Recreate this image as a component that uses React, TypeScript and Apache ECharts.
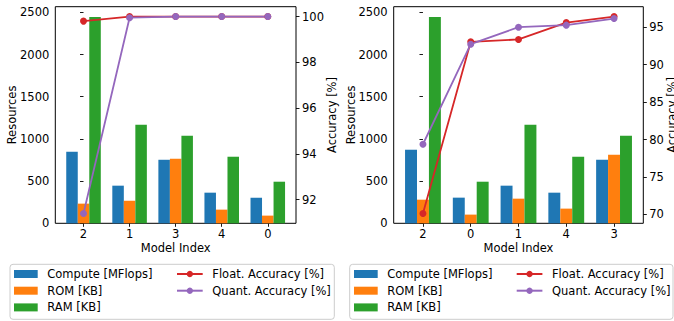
import React, { useEffect, useRef } from "react";
import * as echarts from "echarts";

const leftCats = ["2", "1", "3", "4", "0"];
const leftCompute = [848, 446, 753, 363, 304];
const leftROM = [233, 268, 765, 162, 91];
const leftRAM = [2445, 1167, 1037, 789, 493];
const leftFloat = [99.8, 100.0, 100.0, 100.0, 100.0];
const leftQuant = [91.39, 99.95, 100.0, 100.0, 100.0];

const rightCats = ["2", "0", "1", "4", "3"];
const rightCompute = [872, 304, 446, 363, 753];
const rightROM = [280, 103, 292, 174, 812];
const rightRAM = [2445, 493, 1167, 789, 1037];
const rightFloat = [70.13, 93.05, 93.36, 95.62, 96.42];
const rightQuant = [79.37, 92.73, 95.0, 95.27, 96.15];

const resTicks = [0, 500, 1000, 1500, 2000, 2500];
const leftAccTicks = [92, 94, 96, 98, 100];
const rightAccTicks = [70, 75, 80, 85, 90, 95];

const BLUE = "#1f77b4";
const ORANGE = "#ff7f0e";
const GREEN = "#2ca02c";
const RED = "#d62728";
const PURPLE = "#9467bd";
const FONT = "DejaVu Sans";
const FS = 11.5;

const XMIN = -0.6125;
const XMAX = 4.6125;

function margins(vals: number[]) {
  const lo = Math.min(...vals);
  const hi = Math.max(...vals);
  const m = (hi - lo) * 0.05;
  return [lo - m, hi + m];
}

export default function App() {
  const ref = useRef<HTMLDivElement>(null);
  useEffect(() => {
    document.body.style.margin = "0";
    const chart = echarts.init(ref.current!, null, { renderer: "svg" });
    const grids = [
      { left: 55.3, top: 6.7, width: 240.7, height: 216.6 },
      { left: 393.7, top: 6.7, width: 249.6, height: 216.6 },
    ];
    const panels = [
      { cats: leftCats, compute: leftCompute, rom: leftROM, ram: leftRAM, fl: leftFloat, qu: leftQuant, accTicks: leftAccTicks },
      { cats: rightCats, compute: rightCompute, rom: rightROM, ram: rightRAM, fl: rightFloat, qu: rightQuant, accTicks: rightAccTicks },
    ];
    const tickStyle = { color: "#000", width: 0.9 };
    const labelStyle = { color: "#000", fontSize: FS, fontFamily: FONT };
    const xAxis: any[] = [];
    const yAxis: any[] = [];
    const series: any[] = [];
    panels.forEach((p, gi) => {
      const idx = [0, 1, 2, 3, 4];
      xAxis.push({
        type: "value",
        gridIndex: gi,
        min: XMIN,
        max: XMAX,
        splitLine: { show: false },
        axisLine: { show: false },
        axisTick: { show: true, customValues: idx, length: 3.5, lineStyle: tickStyle },
        axisLabel: { ...labelStyle, customValues: idx, margin: 5, formatter: (v: number) => p.cats[Math.round(v)] },
      });
      const resMax = Math.max(...p.ram) * 1.05;
      yAxis.push({
        type: "value",
        gridIndex: gi,
        min: 0,
        max: resMax,
        interval: 500,
        splitLine: { show: false },
        axisLine: { show: false },
        axisTick: { show: true, length: 3.5, lineStyle: tickStyle },
        axisLabel: { ...labelStyle, margin: 6, showMaxLabel: false, formatter: (v: number) => (resTicks.includes(v) ? String(v) : "") },
      });
      const [amin, amax] = margins([...p.fl, ...p.qu]);
      yAxis.push({
        type: "value",
        gridIndex: gi,
        position: "right",
        min: amin,
        max: amax,
        splitLine: { show: false },
        axisLine: { show: false },
        axisTick: { show: true, customValues: p.accTicks, length: 3.5, lineStyle: tickStyle },
        axisLabel: { ...labelStyle, customValues: p.accTicks, margin: 6 },
      });
      const bw = (0.25 * grids[gi].width) / (XMAX - XMIN);
      const bars = [
        { name: "Compute [MFlops]", vals: p.compute, off: -0.25, color: BLUE },
        { name: "ROM [KB]", vals: p.rom, off: 0, color: ORANGE },
        { name: "RAM [KB]", vals: p.ram, off: 0.25, color: GREEN },
      ];
      bars.forEach((b) => {
        series.push({
          type: "bar",
          name: b.name,
          xAxisIndex: gi,
          yAxisIndex: gi * 2,
          barWidth: bw,
          barGap: "-100%",
          itemStyle: { color: b.color },
          data: b.vals.map((v, i) => [i + b.off, v]),
        });
      });
      const lines = [
        { name: "Float. Accuracy [%]", vals: p.fl, color: RED },
        { name: "Quant. Accuracy [%]", vals: p.qu, color: PURPLE },
      ];
      lines.forEach((l) => {
        series.push({
          type: "line",
          name: l.name,
          xAxisIndex: gi,
          yAxisIndex: gi * 2 + 1,
          symbol: "circle",
          symbolSize: 7,
          showSymbol: true,
          lineStyle: { color: l.color, width: 1.8 },
          itemStyle: { color: l.color },
          data: l.vals.map((v, i) => [i, v]),
        });
      });
    });

    const legendText = { fontSize: FS, fontFamily: FONT, color: "#000", lineHeight: 12, padding: [0, 0, 0, 4.6] };
    const legCommon = {
      orient: "vertical",
      top: 268,
      padding: 0,
      itemHeight: 8,
      itemGap: 4.7,
      selectedMode: false,
      textStyle: legendText,
      z: 10,
    };
    const barNames = ["Compute [MFlops]", "ROM [KB]", "RAM [KB]"];
    const lineNames = ["Float. Accuracy [%]", "Quant. Accuracy [%]"];
    const legend = [
      { ...legCommon, left: 14, itemWidth: 23.7, icon: "rect", data: barNames },
      { ...legCommon, left: 176, itemWidth: 25.7, data: lineNames },
      { ...legCommon, left: 354, itemWidth: 23.7, icon: "rect", data: barNames },
      { ...legCommon, left: 515.7, itemWidth: 25.7, data: lineNames },
    ];

    const title = (text: string, x: number, y: number, rot: number) => ({
      type: "text",
      x,
      y,
      rotation: rot,
      style: { text, fill: "#000", font: `${FS}px "${FONT}"`, textAlign: "center", textVerticalAlign: "middle" },
    });
    const graphic = [
      { type: "rect", z: 1, shape: { x: 10, y: 264.3, width: 324.3, height: 55, r: 3 }, style: { fill: "#fff", stroke: "#cccccc", lineWidth: 1 } },
      { type: "rect", z: 1, shape: { x: 349.7, y: 264.3, width: 323.3, height: 55, r: 3 }, style: { fill: "#fff", stroke: "#cccccc", lineWidth: 1 } },
      title("Resources", 11.5, 115, Math.PI / 2),
      title("Accuracy [%]", 331.5, 115, Math.PI / 2),
      title("Model Index", 175.7, 248, 0),
      title("Resources", 351.3, 115, Math.PI / 2),
      title("Accuracy [%]", 671.5, 115, Math.PI / 2),
      title("Model Index", 518.5, 248, 0),
    ];

    chart.setOption({
      animation: false,
      grid: grids.map((g) => ({ ...g, show: true, borderColor: "#000", borderWidth: 1, backgroundColor: "transparent" })),
      xAxis,
      yAxis,
      series,
      legend,
      graphic,
    });
    return () => chart.dispose();
  }, []);
  return <div ref={ref} style={{ width: 674, height: 321 }} />;
}
